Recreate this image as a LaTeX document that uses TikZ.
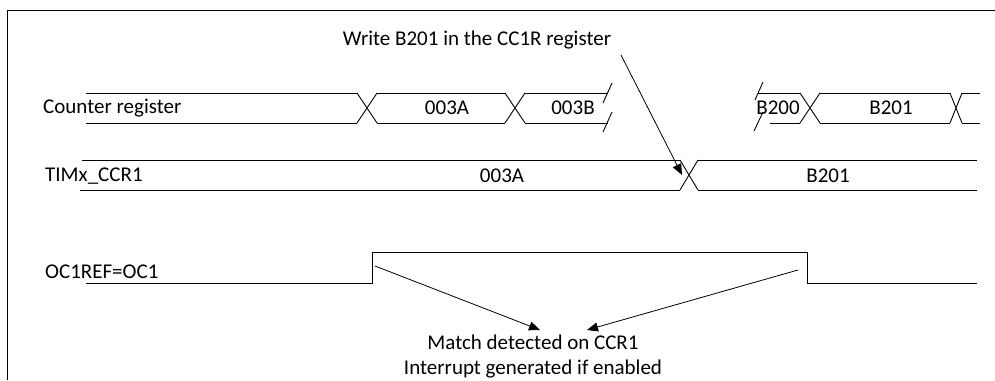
\documentclass[tikz,border=0pt]{standalone}
\usepackage{fontspec}
\setmainfont{Carlito}
\usepackage{tikz}
\usetikzlibrary{arrows.meta,positioning,calc}
\tikzset{
  >={Triangle[length=11pt,width=9pt]},
  sig/.style={draw=black,line width=0.9pt},
  lab/.style={font=\fontsize{21}{25}\selectfont,inner sep=0pt,anchor=west},
  val/.style={font=\fontsize{21}{25}\selectfont,inner sep=0pt},
  arr/.style={->,draw=black,line width=0.8pt},
}

\begin{document}
\begin{tikzpicture}[x=1pt,y=-1pt]
\useasboundingbox (0,0) rectangle (995,380);
\draw[line width=1pt] (995,10) -- (7,10) -- (7,380);

% counter register
\node[lab] (cnt) at (43,108) {Counter register};
\foreach \a/\b in {86/357,377/505,525/608,820/950,962/980}
  \draw[sig] (\a,93) -- (\b,93) (\a,123) -- (\b,123);
\draw[sig] (758,93) -- (800,93) (770,123) -- (800,123);
\foreach \c/\h in {367/10,515/10,810/10,956/6}
  \draw[sig] (\c-\h,93) -- (\c+\h,123) (\c-\h,123) -- (\c+\h,93);
\draw[sig] (612,83) -- (603,103) (612,112) -- (603,132);
\draw[sig] (763,82) -- (755,100) (763,112) -- (754,131);
\node[val] (c1) at (447,108) {003A};
\node[val] (c2) at (573,108) {003B};
\node[val] (c3) at (778,108) {B200};
\node[val] (c4) at (891,108) {B201};

% compare register
\node[lab] (ccr) at (45,176) {TIMx\_CCR1};
\draw[sig] (82,160) -- (680,160) (80,190) -- (680,190);
\draw[sig] (680,160) -- (698,190) (680,190) -- (698,160);
\draw[sig] (698,160) -- (977,160) (698,190) -- (977,190);
\node[val] (r1) at (502,176) {003A};
\node[val] (r2) at (828,176) {B201};

% output
\node[lab] (oc) at (45,272) {OC1REF=OC1};
\draw[sig] (86,283) -- (372,283) -- (372,252) -- (807,252) -- (807,283) -- (977,283);

% notes
\node[val] (wr) at (477,40) {Write B201 in the CC1R register};
\node[val,align=center] (mt) at (533,357) {Match detected on CCR1\\Interrupt generated if enabled};
\coordinate (ws) at (621,55);
\coordinate (wx) at (682,175);
\coordinate (ma) at (375,266);
\coordinate (mb) at (798,270);
\coordinate (ta) at (540,330);
\coordinate (tb) at (587,330);
\draw[arr] (ws) -- (wx);
\draw[arr] (ma) -- (ta);
\draw[arr] (mb) -- (tb);
\end{tikzpicture}
\end{document}
